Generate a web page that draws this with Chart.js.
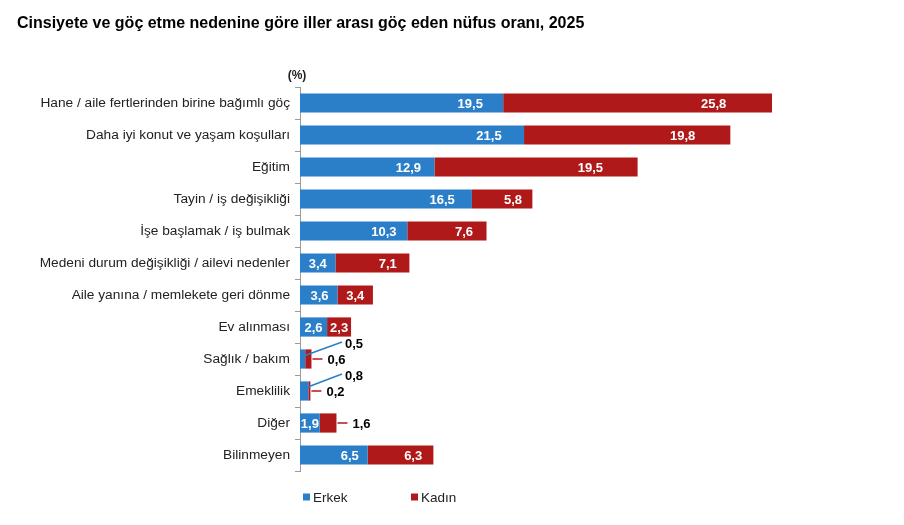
<!DOCTYPE html>
<html>
<head>
<meta charset="utf-8">
<script src="https://cdn.jsdelivr.net/npm/chart.js@4"></script>
<style>
html,body{margin:0;padding:0;background:#fff;}
#wrap{width:904px;height:525px;position:relative;}
</style>
</head>
<body>
<div id="wrap"><canvas id="c" width="904" height="525"></canvas></div>
<script>
const categories = [
  "Hane / aile fertlerinden birine bağımlı göç",
  "Daha iyi konut ve yaşam koşulları",
  "Eğitim",
  "Tayin / iş değişikliği",
  "İşe başlamak / iş bulmak",
  "Medeni durum değişikliği / ailevi nedenler",
  "Aile yanına / memlekete geri dönme",
  "Ev alınması",
  "Sağlık / bakım",
  "Emeklilik",
  "Diğer",
  "Bilinmeyen"
];
const erkek = [19.5, 21.5, 12.9, 16.5, 10.3, 3.4, 3.6, 2.6, 0.5, 0.8, 1.9, 6.5];
const kadin = [25.8, 19.8, 19.5, 5.8, 7.6, 7.1, 3.4, 2.3, 0.6, 0.2, 1.6, 6.3];
const seriesNames = ["Erkek", "Kadın"];
const titleText = "Cinsiyete ve göç etme nedenine göre iller arası göç eden nüfus oranı, 2025";
const unitLabel = "(%)";

const BLUE = "#2A7FC8";
const RED = "#B01919";
const FONT = "'Liberation Sans', Arial, sans-serif";

function fmt(v){ return v.toFixed(1).replace('.', ','); }

const labelPlugin = {
  id: 'valueLabels',
  afterDatasetsDraw(chart){
    const ctx = chart.ctx;
    ctx.save();
    ctx.font = "bold 13px " + FONT;
    ctx.textBaseline = 'middle';
    const left = chart.chartArea.left;
    chart.data.datasets.forEach((ds, di) => {
      const meta = chart.getDatasetMeta(di);
      const padFactor = di === 0 ? 0.1 : 0.17;
      meta.data.forEach((bar, i) => {
        const v = ds.data[i];
        const txt = fmt(v);
        const tw = ctx.measureText(txt).width;
        const x1 = bar.x, x0 = bar.base, yc = bar.y;
        const w = x1 - x0;
        if (w >= tw + 1) {
          const pad = Math.max(9, padFactor * w);
          let cx;
          if (tw + 2 * pad > w) cx = x0 + w / 2; else cx = x1 - pad - tw / 2;
          ctx.fillStyle = '#fff';
          ctx.textAlign = 'center';
          ctx.fillText(txt, cx, yc + 1);
        } else if (di === 0) {
          const tx = left + 45;
          const ty = yc - 15;
          ctx.strokeStyle = ds.backgroundColor;
          ctx.lineWidth = 1.5;
          ctx.beginPath();
          ctx.moveTo(x0 + w / 2 + 1, yc - 3);
          ctx.lineTo(tx - 3, ty - 2);
          ctx.stroke();
          ctx.fillStyle = '#000';
          ctx.textAlign = 'left';
          ctx.fillText(txt, tx, ty);
        } else {
          const tx = x1 + 16;
          ctx.strokeStyle = ds.backgroundColor;
          ctx.lineWidth = 1.5;
          ctx.beginPath();
          ctx.moveTo(x1 + 1, yc);
          ctx.lineTo(x1 + 11, yc);
          ctx.stroke();
          ctx.fillStyle = '#000';
          ctx.textAlign = 'left';
          ctx.fillText(txt, tx, yc + 1);
        }
      });
    });
    ctx.font = "bold 12px " + FONT;
    ctx.fillStyle = '#222';
    ctx.textAlign = 'center';
    ctx.fillText(unitLabel, left - 3, chart.chartArea.top - 11);
    const ly = 497;
    const items = [{x: 303, c: BLUE}, {x: 411, c: RED}];
    ctx.font = "13.5px " + FONT;
    ctx.textAlign = 'left';
    items.forEach((it, k) => {
      ctx.fillStyle = it.c;
      ctx.fillRect(it.x, ly - 3.5, 7, 7);
      ctx.fillStyle = '#222';
      ctx.fillText(seriesNames[k], it.x + 10, ly + 1);
    });
    ctx.restore();
  }
};

new Chart(document.getElementById('c'), {
  type: 'bar',
  data: {
    labels: categories,
    datasets: [
      {label: seriesNames[0], data: erkek, backgroundColor: BLUE, borderWidth: 0},
      {label: seriesNames[1], data: kadin, backgroundColor: RED, borderWidth: 0}
    ]
  },
  options: {
    indexAxis: 'y',
    responsive: false,
    animation: false,
    layout: {padding: {left: 17, right: 83, top: 0, bottom: 54}},
    plugins: {
      legend: {display: false},
      tooltip: {enabled: false},
      title: {
        display: true,
        text: titleText,
        align: 'start',
        color: '#000',
        font: {family: FONT, size: 16, weight: 'bold', lineHeight: 1.2},
        padding: {top: 14, bottom: 53.8}
      }
    },
    datasets: {bar: {barPercentage: 0.6, categoryPercentage: 1.0}},
    scales: {
      x: {stacked: true, min: 0, max: 50, display: false},
      y: {
        stacked: true,
        grid: {display: true, drawOnChartArea: false, offset: true, tickLength: 5, color: '#9a9a9a', lineWidth: 1},
        border: {display: true, color: '#9a9a9a', width: 1},
        ticks: {font: {family: FONT, size: 13.7}, color: '#222', padding: 5, autoSkip: false},
        afterFit(scale){ scale.width = 283; }
      }
    }
  },
  plugins: [labelPlugin]
});
</script>
</body>
</html>
